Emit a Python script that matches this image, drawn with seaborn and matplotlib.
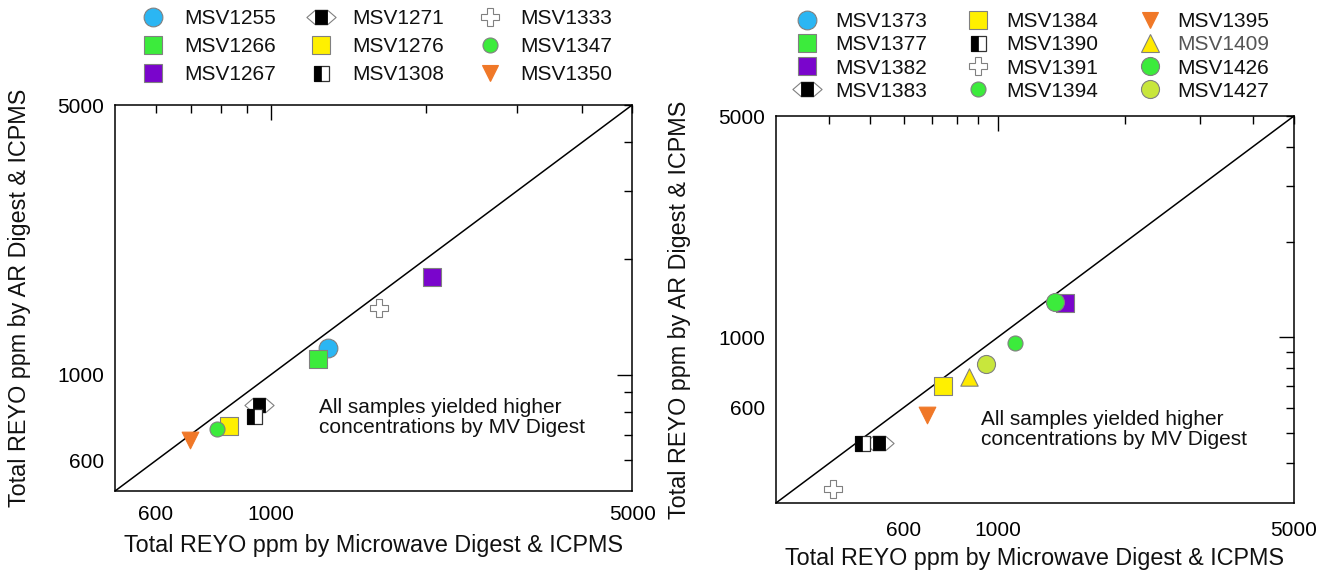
import numpy as np
import pandas as pd
import matplotlib
matplotlib.use("Agg")
import matplotlib.pyplot as plt
import seaborn as sns
from matplotlib.path import Path
from matplotlib.lines import Line2D
from matplotlib.legend_handler import HandlerTuple
from matplotlib.ticker import FixedLocator, FuncFormatter

# ---------------- data ----------------
left_samples = ["MSV1255", "MSV1266", "MSV1267", "MSV1271", "MSV1276",
                "MSV1308", "MSV1333", "MSV1347", "MSV1350"]
left_mv = [1293, 1237, 2049, 950, 832, 929, 1623, 789, 698]
left_ar = [1173, 1099, 1790, 835, 738, 780, 1488, 723, 677]

right_samples = ["MSV1373", "MSV1377", "MSV1382", "MSV1383", "MSV1384",
                 "MSV1390", "MSV1391", "MSV1394", "MSV1395", "MSV1409",
                 "MSV1426", "MSV1427"]
right_mv = [np.nan, np.nan, 1441, 525, 742, 478, 409, 1099, 680, 857, 1363, 938]
right_ar = [np.nan, np.nan, 1282, 464, 700, 464, 331, 960, 568, 748, 1290, 824]

left_limits = [500, 5000]
right_limits = [300, 5000]
major_ticks = [1000]
left_minor_ticks = [600, 700, 800, 900, 2000, 3000, 4000, 5000]
right_minor_ticks = [400, 500, 600, 700, 800, 900, 2000, 3000, 4000, 5000]
tick_labels = {600: "600", 1000: "1000", 5000: "5000"}

x_label = "Total REYO ppm by Microwave Digest & ICPMS"
y_label = "Total REYO ppm by AR Digest & ICPMS"
note = "All samples yielded higher\nconcentrations by MV Digest"

# ---------------- styles ----------------
left_kinds = ["blue_circle", "green_square", "purple_square", "hex", "yellow_square",
              "half", "cross", "small_green_circle", "orange_down"]
right_kinds = ["blue_circle", "green_square", "purple_square", "hex", "yellow_square",
               "half", "cross", "small_green_circle", "orange_down", "yellow_up",
               "big_green_circle", "yg_circle"]

EDGE = "#808080"
hex_path = Path([(-1, 0), (-0.42, 0.5), (0.42, 0.5), (1, 0), (0.42, -0.5),
                 (-0.42, -0.5), (-1, 0)], closed=True)
sq_path = Path([(-0.42, -0.5), (0.42, -0.5), (0.42, 0.5), (-0.42, 0.5),
                (-0.42, -0.5)], closed=True)
half_path = Path([(-1, -1), (0, -1), (0, 1), (-1, 1), (-1, -1)], closed=True)
HEX_MS = 21.0
HALF_MS = 10.8

styles = {
    "blue_circle": dict(marker="o", ms=13.5, fc="#2BB6F3", ec=EDGE),
    "green_square": dict(marker="s", ms=13.0, fc="#3CEB3C", ec=EDGE),
    "purple_square": dict(marker="s", ms=12.5, fc="#7A05CC", ec=EDGE),
    "yellow_square": dict(marker="s", ms=13.0, fc="#FFF000", ec=EDGE),
    "cross": dict(marker="P", ms=13.5, fc="white", ec=EDGE),
    "small_green_circle": dict(marker="o", ms=10.8, fc="#3CEB3C", ec=EDGE),
    "big_green_circle": dict(marker="o", ms=13.0, fc="#3CEB3C", ec=EDGE),
    "yg_circle": dict(marker="o", ms=13.0, fc="#C8E63C", ec=EDGE),
    "orange_down": dict(marker="v", ms=12.0, fc="#F07828", ec="#F07828"),
    "yellow_up": dict(marker="^", ms=12.5, fc="#FFEA00", ec=EDGE),
}

# composite markers: list of (marker, size, face, edge, lw)
composites = {
    "hex": [(hex_path, HEX_MS, "white", EDGE, 0.8),
            (sq_path, HEX_MS * 0.5, "black", "black", 0.6)],
    "half": [("s", HALF_MS, "white", "#333333", 0.9),
             (half_path, HALF_MS, "black", "black", 0.5)],
}

sns.set_theme(style="white", rc={
    "axes.edgecolor": "black", "axes.linewidth": 1.1,
    "xtick.color": "black", "ytick.color": "black",
    "text.color": "#111111", "axes.labelcolor": "#111111",
})
plt.rcParams["font.family"] = ["Liberation Sans", "DejaVu Sans"]

FS_TICK = 15
FS_LABEL = 16.8


def layers(kind):
    if kind in composites:
        return composites[kind]
    st = styles[kind]
    return [(st["marker"], st["ms"], st["fc"], st["ec"], 0.8)]


def make_handle(kind):
    hs = tuple(Line2D([], [], linestyle="none", marker=m, markersize=ms,
                      markerfacecolor=fc, markeredgecolor=ec, markeredgewidth=lw)
               for (m, ms, fc, ec, lw) in layers(kind))
    return hs if len(hs) > 1 else hs[0]


def draw_point(ax, x, y, kind, z):
    for j, (m, ms, fc, ec, lw) in enumerate(layers(kind)):
        sns.scatterplot(x=[x], y=[y], marker=m, s=ms ** 2, color=fc,
                        edgecolor=ec, linewidth=lw, ax=ax, legend=False,
                        zorder=z + j * 0.001)


def panel(ax, samples, mv, ar, kinds, limits, minor_ticks, legend_anchor, labelspacing,
          textpad, colspacing, xlab_y, ylab_x, xpad):
    df = pd.DataFrame({"sample": samples, "mv": mv, "ar": ar, "kind": kinds})
    ax.set_xscale("log")
    ax.set_yscale("log")
    ax.plot(limits, limits, color="black", lw=1.1, zorder=1)
    for i, row in df.iterrows():
        if pd.notna(row["mv"]) and pd.notna(row["ar"]):
            draw_point(ax, row["mv"], row["ar"], row["kind"], 2 + i * 0.01)
    ax.set_xlim(limits)
    ax.set_ylim(limits)
    fmt = FuncFormatter(lambda v, p: tick_labels.get(int(round(v)), ""))
    for axis in (ax.xaxis, ax.yaxis):
        axis.set_major_locator(FixedLocator(major_ticks))
        axis.set_minor_locator(FixedLocator(minor_ticks))
        axis.set_major_formatter(fmt)
        axis.set_minor_formatter(fmt)
    ax.tick_params(which="both", direction="in", top=True, right=True,
                   labelsize=FS_TICK, pad=8, width=1.0)
    ax.tick_params(axis="x", which="both", pad=xpad)
    ax.tick_params(which="major", length=11)
    ax.tick_params(which="minor", length=6)
    for s in ax.spines.values():
        s.set_visible(True)
        s.set_linewidth(1.1)
    ax.set_xlabel(x_label, fontsize=FS_LABEL)
    ax.set_ylabel(y_label, fontsize=FS_LABEL)
    ax.xaxis.set_label_coords(0.5, xlab_y)
    ax.yaxis.set_label_coords(ylab_x, 0.5)
    ax.text(0.395, 0.19, note, transform=ax.transAxes, fontsize=FS_TICK,
            ha="left", va="center", linespacing=1.05)
    handles = [make_handle(k) for k in kinds]
    leg = ax.legend(handles, samples, ncol=3, loc="upper left",
                    bbox_to_anchor=legend_anchor, bbox_transform=ax.figure.transFigure,
                    frameon=False, fontsize=FS_TICK, numpoints=1, handlelength=1.5,
                    handletextpad=textpad, columnspacing=colspacing,
                    labelspacing=labelspacing, borderpad=0.2, borderaxespad=0.0,
                    handler_map={tuple: HandlerTuple(ndivide=1)})
    return leg


fig = plt.figure(figsize=(13.33, 5.72), dpi=100)
ax1 = fig.add_axes([0.0863, 0.1416, 0.3879, 0.6748])
ax2 = fig.add_axes([0.5821, 0.1206, 0.3886, 0.6766])

panel(ax1, left_samples, left_mv, left_ar, left_kinds, left_limits, left_minor_ticks,
      (0.1002, 0.991), 0.42, 0.74, 1.42, -0.112, -0.162, 10)
leg2 = panel(ax2, right_samples, right_mv, right_ar, right_kinds, right_limits,
             right_minor_ticks, (0.5908, 0.986), 0.2, 0.6, 1.7, -0.114, -0.164, 13)
for t in leg2.get_texts():
    if t.get_text() == "MSV1409":
        t.set_color("#555555")

fig.savefig("out.png", dpi=100)
